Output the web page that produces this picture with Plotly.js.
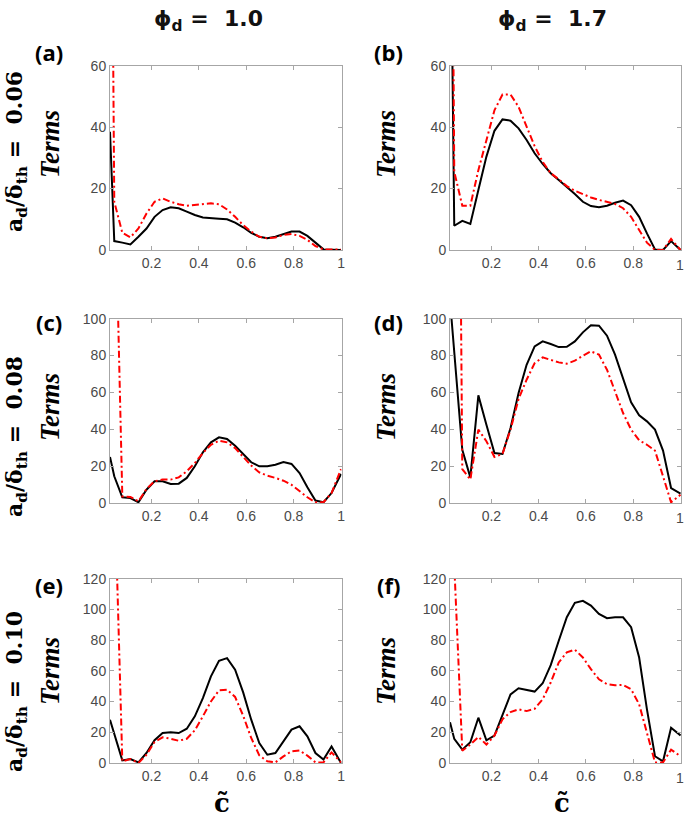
<!DOCTYPE html>
<html>
<head>
<meta charset="utf-8">
<script src="https://cdn.plot.ly/plotly-3.0.1.min.js"></script>
<style>html,body{margin:0;padding:0;background:#fff;overflow:hidden;}#chart{width:685px;height:818px;}</style>
</head>
<body>
<div id="chart"></div>
<script>
// progress variable c~ (shared x grid)
const c = [0.025, 0.043, 0.077, 0.111, 0.145, 0.179, 0.213, 0.247, 0.281, 0.315,
           0.349, 0.383, 0.417, 0.451, 0.485, 0.519, 0.553, 0.587, 0.621, 0.655,
           0.689, 0.723, 0.757, 0.791, 0.825, 0.858, 0.892, 0.926, 0.960, 1.0];

// (a) phi_d = 1.0, a_d/delta_th = 0.06
const aBlack = [38.5, 2.9, 2.4, 1.8, 4.3, 7.0, 10.8, 13.0, 13.9, 13.6, 12.5, 11.4, 10.6, 10.3, 10.2, 10.0, 8.9, 7.4, 5.6, 4.3, 3.8, 4.3, 5.2, 6.0, 6.0, 4.6, 2.4, 0.2, 0.1, 0];
const aRed   = [200, 15.7, 5.6, 4.1, 7.0, 11.9, 15.7, 16.8, 15.7, 14.9, 14.4, 14.6, 15.0, 15.2, 14.9, 13.2, 10.8, 8.1, 6.0, 4.3, 3.8, 4.1, 4.9, 5.2, 4.6, 3.3, 1.3, 0.2, 0.2, 0.2];
// (b) phi_d = 1.7, a_d/delta_th = 0.06
const bBlack = [130, 7.9, 9.5, 8.5, 19.5, 30.4, 38.8, 42.5, 42.1, 39.6, 35.8, 31.5, 28.0, 25.0, 22.8, 20.6, 18.2, 15.7, 14.3, 13.9, 14.4, 15.4, 16.1, 14.6, 10.8, 5.4, 0.2, 0, 2.9, 0];
const bRed   = [220, 25.5, 14.4, 14.4, 26.0, 35.8, 45.5, 50.6, 50.6, 46.6, 40.1, 33.8, 28.7, 25.0, 23.0, 20.8, 19.3, 18.2, 17.1, 16.3, 15.7, 15.0, 13.6, 10.8, 6.5, 2.4, 0, 0, 3.6, 0];
// (c) phi_d = 1.0, a_d/delta_th = 0.08
const cBlack = [25, 14.5, 3.1, 2.7, 0.4, 7.2, 11.8, 11.8, 10.3, 10.5, 13.6, 19.9, 27.5, 32.9, 35.6, 34.7, 31.1, 26.6, 22.1, 19.9, 19.9, 20.8, 22.2, 21.2, 16.3, 8.5, 1.3, 0.4, 5.4, 15.7];
const cRed   = [400, 190, 3.6, 3.3, 0.9, 7.6, 11.8, 12.7, 12.7, 13.9, 17.2, 21.7, 27.1, 31.6, 33.8, 32.9, 29.8, 25.3, 20.3, 16.6, 14.8, 13.6, 12.1, 9.9, 6.7, 3.1, 0.4, 0.4, 5.4, 18.4];
// (d) phi_d = 1.7, a_d/delta_th = 0.08
const dBlack = [110, 82, 28.9, 13.9, 58.4, 42.5, 27.1, 26.6, 40.7, 59.7, 75.0, 85.0, 87.7, 86.3, 84.6, 84.8, 87.7, 92.6, 96.4, 96.2, 90.8, 80.5, 66.9, 54.6, 47.6, 44.3, 39.8, 28.4, 8.1, 5.1];
const dRed   = [800, 550, 18.4, 12.7, 39.8, 33.5, 25.0, 26.6, 39.8, 56.4, 66.9, 75.9, 79.0, 77.8, 76.3, 75.6, 77.2, 79.9, 82.3, 80.5, 72.3, 60.6, 48.8, 39.8, 34.0, 31.6, 28.4, 14.5, 0.4, 4.5];
// (e) phi_d = 1.0, a_d/delta_th = 0.10
const eBlack = [28.2, 19.5, 1.7, 2.6, 0.4, 6.5, 14.8, 19.5, 20.0, 19.5, 22.3, 30.4, 42.3, 56.4, 66.6, 68.3, 60.7, 46.0, 28.2, 13.0, 5.4, 6.5, 14.1, 21.7, 23.9, 17.4, 6.5, 2.2, 10.8, 0];
const eRed   = [400, 187, 1.1, 2.6, 0, 5.4, 13.7, 16.7, 15.8, 14.5, 15.8, 21.3, 30.4, 40.1, 47.3, 47.7, 43.0, 30.8, 16.3, 5.0, 1.1, 0.4, 4.3, 7.6, 8.2, 4.8, 0.4, 0.4, 6.9, 0.4];
// (f) phi_d = 1.7, a_d/delta_th = 0.10
const fBlack = [26.6, 15.7, 8.7, 13.5, 29.5, 14.8, 17.9, 31.6, 44.7, 48.7, 47.6, 46.5, 51.9, 63.7, 79.6, 94.9, 104.3, 105.6, 102.5, 97.1, 94.3, 94.9, 94.9, 88.4, 68.7, 34.9, 4.4, 1.1, 22.9, 17.9];
const fRed   = [400, 129, 8.0, 12.0, 17.0, 12.0, 17.9, 28.4, 33.2, 34.9, 33.8, 35.3, 41.5, 52.4, 65.5, 72.0, 73.8, 68.7, 61.1, 54.5, 51.3, 50.6, 50.8, 48.0, 38.2, 19.6, 0.4, 0.4, 8.7, 4.4];

const panelLetters = ['(a)', '(b)', '(c)', '(d)', '(e)', '(f)'];
const colHeaders = ['1.0', '1.7'];
const rowRatios = ['0.06', '0.08', '0.10'];
const yMax = [60, 100, 120];
const xTickVals = [0.2, 0.4, 0.6, 0.8, 1];
const xTickText = ['0.2', '0.4', '0.6', '0.8', '1'];

const W = 685, H = 818;
const px = x => x / W;
const py = y => 1 - y / H;

const series = [[aBlack, aRed], [bBlack, bRed], [cBlack, cRed], [dBlack, dRed], [eBlack, eRed], [fBlack, fRed]];

const colPx = [[110, 341.5], [450, 681]];
const rowPx = [[65.7, 250], [318.7, 503], [578.7, 763]];
const tickFont = {family: 'Liberation Sans, Arial, sans-serif', size: 14, color: '#4a4a4a'};

const traces = [];
const edgeNotes = [];
const layout = {
  width: W, height: H,
  margin: {l: 0, r: 0, t: 0, b: 0},
  paper_bgcolor: '#ffffff', plot_bgcolor: 'rgba(0,0,0,0)',
  showlegend: false,
  annotations: []
};

series.forEach((s, i) => {
  const row = Math.floor(i / 2), col = i % 2;
  const n = i + 1;
  const xa = n === 1 ? 'x' : 'x' + n;
  const ya = n === 1 ? 'y' : 'y' + n;
  traces.push({x: c, y: s[0], xaxis: xa, yaxis: ya, type: 'scatter', mode: 'lines',
               line: {color: '#000000', width: 2}});
  traces.push({x: c, y: s[1], xaxis: xa, yaxis: ya, type: 'scatter', mode: 'lines',
               line: {color: '#ff0000', width: 2, dash: '7px,3px,2px,3px'}});
  const common = {
    showgrid: false, zeroline: false, showline: true, mirror: 'ticks',
    linecolor: '#a6a6a6', linewidth: 1,
    ticks: 'inside', ticklen: 4, tickcolor: '#a6a6a6', tickwidth: 1,
    tickfont: tickFont,
    fixedrange: true
  };
  const edgeLabel = (col === 1);
  layout['xaxis' + (n === 1 ? '' : n)] = Object.assign({}, common, {
    domain: [px(colPx[col][0]), px(colPx[col][1])], anchor: ya,
    range: [0.025, 1.002], tickvals: xTickVals,
    ticktext: edgeLabel ? xTickText.slice(0, -1).concat(['']) : xTickText
  });
  layout['yaxis' + (n === 1 ? '' : n)] = Object.assign({}, common, {
    domain: [py(rowPx[row][1]), py(rowPx[row][0])], anchor: xa,
    range: [0, yMax[row]], dtick: 20, tick0: 0
  });
  if (edgeLabel) {
    edgeNotes.push({xref: 'paper', yref: 'paper', x: px(colPx[col][1] - 1), y: py(rowPx[row][1] + 6),
      text: xTickText[xTickText.length - 1], showarrow: false, xanchor: 'center', yanchor: 'top',
      borderpad: 0, font: tickFont});
  }
  layout.annotations.push({xref: 'paper', yref: 'paper', x: px(col === 0 ? 49 : 388), y: py(row === 2 ? 585 : (row === 1 ? 322 : 52)),
    text: '<b>' + panelLetters[i] + '</b>', showarrow: false, xanchor: 'center', yanchor: 'middle',
    font: {family: 'Open Sans, Liberation Sans, sans-serif', size: 22, color: '#000'}});
  layout.annotations.push({xref: 'paper', yref: 'paper', x: px(col === 0 ? 50 : 386), y: py([144, 407, 671][row]),
    text: '<b><i>Terms</i></b>', showarrow: false, textangle: -90, xanchor: 'center', yanchor: 'middle',
    font: {family: 'Liberation Serif, DejaVu Serif, serif', size: 27, color: '#000'}});
});

colHeaders.forEach((v, k) => {
  layout.annotations.push({xref: 'paper', yref: 'paper', x: px([208, 552][k]), y: py(20),
    text: '<b>ϕ<sub>d</sub> =  ' + v + '</b>', showarrow: false, xanchor: 'center', yanchor: 'middle',
    font: {family: 'DejaVu Sans, sans-serif', size: 22, color: '#111'}});
});
rowRatios.forEach((v, k) => {
  layout.annotations.push({xref: 'paper', yref: 'paper', x: px(16), y: py([152, 437, 692][k]),
    text: '<b>a<sub>d</sub>/δ<sub>th</sub> =  ' + v + '</b>', showarrow: false, textangle: -90,
    xanchor: 'center', yanchor: 'middle',
    font: {family: 'DejaVu Serif, serif', size: 22, color: '#000'}});
});
[222, 562].forEach(xp => {
  layout.annotations.push({xref: 'paper', yref: 'paper', x: px(xp), y: py(803),
    text: '<b>c̃</b>', showarrow: false, xanchor: 'center', yanchor: 'middle',
    font: {family: 'DejaVu Serif, serif', size: 26, color: '#000'}});
});
layout.annotations = layout.annotations.concat(edgeNotes);

Plotly.newPlot('chart', traces, layout, {staticPlot: true, displayModeBar: false});
</script>
</body>
</html>
